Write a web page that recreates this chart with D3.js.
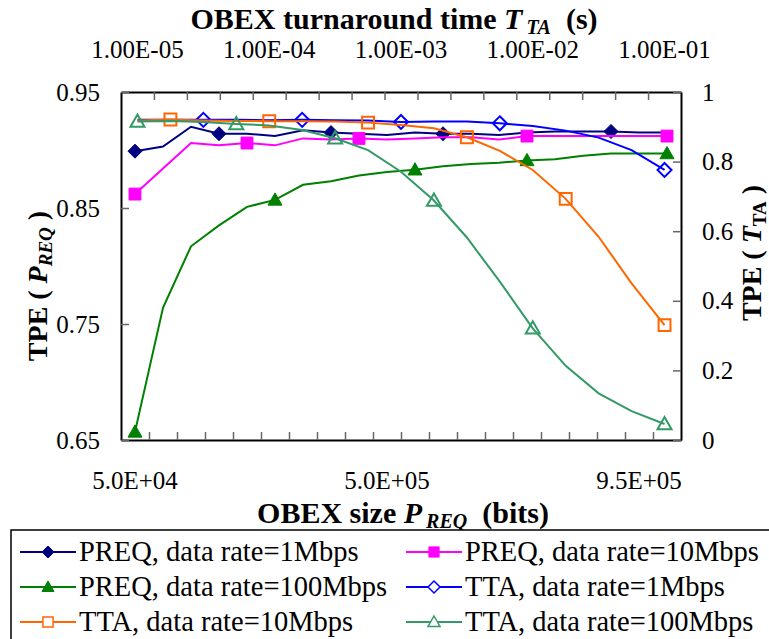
<!DOCTYPE html>
<html>
<head>
<meta charset="utf-8">
<script src="https://cdn.jsdelivr.net/npm/d3@7"></script>
<style>
  body { margin: 0; background: #fff; }
  #chart, #chart text { font-family: "Times New Roman", "Liberation Serif", Times, "DejaVu Serif", serif !important; }
</style>
</head>
<body>
<svg id="chart" width="769" height="639"></svg>
<script>
// categories
const preqSizes = [50000, 100000, 150000, 200000, 250000, 300000, 350000, 400000, 450000, 500000,
                   550000, 600000, 650000, 700000, 750000, 800000, 850000, 900000, 950000, 1000000];
const ttaTimes = [1.00E-05, 1.78E-05, 3.16E-05, 5.62E-05, 1.00E-04, 1.78E-04, 3.16E-04, 5.62E-04, 1.00E-03,
                  1.78E-03, 3.16E-03, 5.62E-03, 1.00E-02, 1.78E-02, 3.16E-02, 5.62E-02, 1.00E-01];

// tick labels
const bottomLabels = [50000, 500000, 950000];
const topLabels = [1.00E-05, 1.00E-04, 1.00E-03, 1.00E-02, 1.00E-01];
const leftTicks = [0.65, 0.75, 0.85, 0.95];
const rightTicks = [0, 0.2, 0.4, 0.6, 0.8, 1];

// series values (PREQ on bottom/left axes, TTA on top/right axes)
const preq1M   = [0.899, 0.903, 0.920, 0.914, 0.914, 0.912, 0.917, 0.915, 0.914, 0.913,
                  0.915, 0.914, 0.914, 0.913, 0.915, 0.916, 0.916, 0.916, 0.915, 0.915];
const preq10M  = [0.862, 0.884, 0.906, 0.904, 0.906, 0.904, 0.910, 0.909, 0.910, 0.909,
                  0.910, 0.911, 0.911, 0.909, 0.912, 0.912, 0.912, 0.912, 0.912, 0.912];
const preq100M = [0.657, 0.764, 0.817, 0.835, 0.851, 0.857, 0.870, 0.873, 0.878, 0.881,
                  0.883, 0.886, 0.888, 0.889, 0.891, 0.892, 0.895, 0.897, 0.897, 0.897];
const tta1M    = [0.920, 0.920, 0.920, 0.920, 0.919, 0.920, 0.919, 0.918, 0.914, 0.915,
                  0.915, 0.910, 0.902, 0.889, 0.869, 0.833, 0.776];
const tta10M   = [0.918, 0.921, 0.918, 0.917, 0.916, 0.916, 0.915, 0.912, 0.905, 0.896,
                  0.870, 0.831, 0.776, 0.693, 0.584, 0.450, 0.330];
const tta100M  = [0.915, 0.917, 0.914, 0.908, 0.904, 0.891, 0.867, 0.833, 0.771, 0.688,
                  0.582, 0.455, 0.321, 0.213, 0.134, 0.083, 0.046];

// points that carry a marker
const preq1MMarks = [0, 3, 7, 11, 17];
const preq10MMarks = [0, 4, 8, 14, 19];
const preq100MMarks = [0, 5, 10, 14, 19];
const tta1MMarks = [2, 5, 8, 11, 16];
const tta10MMarks = [1, 4, 7, 10, 13, 16];
const tta100MMarks = [0, 3, 6, 9, 12, 16];

const series = [
  {name: "PREQ, data rate=1Mbps",   values: preq1M,   marks: preq1MMarks,   axis: "preq", color: "#000080", shape: "diamond",  fill: true},
  {name: "PREQ, data rate=10Mbps",  values: preq10M,  marks: preq10MMarks,  axis: "preq", color: "#ff00ff", shape: "square",   fill: true},
  {name: "PREQ, data rate=100Mbps", values: preq100M, marks: preq100MMarks, axis: "preq", color: "#008000", shape: "triangle", fill: true},
  {name: "TTA, data rate=1Mbps",    values: tta1M,    marks: tta1MMarks,    axis: "tta",  color: "#0000ff", shape: "diamond",  fill: false},
  {name: "TTA, data rate=10Mbps",   values: tta10M,   marks: tta10MMarks,   axis: "tta",  color: "#ff6600", shape: "square",   fill: false},
  {name: "TTA, data rate=100Mbps",  values: tta100M,  marks: tta100MMarks,  axis: "tta",  color: "#339966", shape: "triangle", fill: false}
];

const FONT = "'Times New Roman', 'Liberation Serif', Times, serif";
const margin = {top: 92, right: 88, bottom: 199, left: 121};
const W = 769, H = 639;
const width = W - margin.left - margin.right;   // 560
const height = H - margin.top - margin.bottom;  // 348

function sci(v, d) {
  const parts = v.toExponential(d).split("e");
  const e = +parts[1], n = Math.abs(e);
  return parts[0] + "E" + (e < 0 ? "-" : "+") + (n < 10 ? "0" : "") + n;
}

function markerPath(shape, r) {
  if (shape === "diamond") return `M0,${-r}L${r},0L0,${r}L${-r},0Z`;
  if (shape === "square") return `M${-r*0.85},${-r*0.85}H${r*0.85}V${r*0.85}H${-r*0.85}Z`;
  return `M0,${-r}L${r},${r*0.75}L${-r},${r*0.75}Z`;
}

const svg = d3.select("#chart").attr("font-family", FONT);
const g = svg.append("g").attr("transform", `translate(${margin.left},${margin.top})`);

// SCALES
const xBottom = d3.scaleBand().domain(preqSizes).range([0, width]).padding(0);
const xTop = d3.scaleBand().domain(ttaTimes).range([0, width]).padding(0);
const xBottomEdge = d3.scaleLinear().domain([0, preqSizes.length]).range([0, width]);
const xTopEdge = d3.scaleLinear().domain([0, ttaTimes.length]).range([0, width]);
const yLeft = d3.scaleLinear().domain([0.65, 0.95]).range([height, 0]);
const yRight = d3.scaleLinear().domain([0, 1]).range([height, 0]);

// AXES (ticks point inward)
function styleAxis(sel) {
  sel.attr("font-family", FONT);
  sel.select(".domain").attr("stroke", "#000").attr("stroke-width", 2);
  sel.selectAll(".tick line").attr("stroke", "#666").attr("stroke-width", 1.5);
}

g.append("g").attr("transform", `translate(0,${height})`)
  .call(d3.axisBottom(xBottomEdge).tickValues(d3.range(1, preqSizes.length)).tickSizeInner(-8).tickSizeOuter(0).tickFormat(""))
  .call(styleAxis);
g.append("g")
  .call(d3.axisTop(xTopEdge).tickValues(d3.range(1, ttaTimes.length)).tickSizeInner(-8).tickSizeOuter(0).tickFormat(""))
  .call(styleAxis);
g.append("g")
  .call(d3.axisLeft(yLeft).tickValues(leftTicks).tickSizeInner(-8).tickSizeOuter(0).tickPadding(21).tickFormat(d3.format(".2f")))
  .call(styleAxis);
g.append("g").attr("transform", `translate(${width},0)`)
  .call(d3.axisRight(yRight).tickValues(rightTicks).tickSizeInner(-8).tickSizeOuter(0).tickPadding(21).tickFormat(d3.format("~g")))
  .call(styleAxis);

// category labels
g.append("g").attr("transform", `translate(0,${height})`)
  .call(d3.axisBottom(xBottom).tickValues(bottomLabels).tickSize(0).tickPadding(31).tickFormat(d => sci(d, 1)))
  .call(a => a.attr("font-family", FONT).select(".domain").remove());
g.append("g")
  .call(d3.axisTop(xTop).tickValues(topLabels).tickSize(0).tickPadding(34).tickFormat(d => sci(d, 2)))
  .call(a => a.attr("font-family", FONT).select(".domain").remove());

g.selectAll(".tick text").attr("font-size", 25).attr("fill", "#000");
g.selectAll(".tick line").filter(function() { return +d3.select(this).attr("y2") === 0 && +d3.select(this).attr("x2") === 0; }).remove();

// SERIES
series.forEach(s => {
  const xs = s.axis === "preq" ? xBottom : xTop;
  const cats = s.axis === "preq" ? preqSizes : ttaTimes;
  const ys = s.axis === "preq" ? yLeft : yRight;
  const pts = s.values.map((v, i) => [xs(cats[i]) + xs.bandwidth() / 2, ys(v)]);

  g.append("path")
    .attr("d", d3.line()(pts))
    .attr("fill", "none")
    .attr("stroke", s.color)
    .attr("stroke-width", 2);

  g.selectAll(null)
    .data(s.marks)
    .enter()
    .append("path")
    .attr("transform", i => `translate(${pts[i][0]},${pts[i][1]})`)
    .attr("d", markerPath(s.shape, 7))
    .attr("fill", s.fill ? s.color : "none")
    .attr("stroke", s.color)
    .attr("stroke-width", s.fill ? 1 : 2);
});

// TITLES
const title = svg.append("text")
  .attr("x", 394).attr("y", 29)
  .attr("text-anchor", "middle")
  .attr("font-size", 30).attr("font-weight", "bold");
title.append("tspan").text("OBEX turnaround time ");
title.append("tspan").attr("font-style", "italic").text("T");
title.append("tspan").attr("font-style", "italic").attr("font-size", 20).attr("dy", 5).attr("dx", 4).text("TA");
title.append("tspan").attr("dy", -5).text("\u00a0 (s)");

const xTitle = svg.append("text")
  .attr("x", 403).attr("y", 523)
  .attr("text-anchor", "middle")
  .attr("font-size", 30).attr("font-weight", "bold");
xTitle.append("tspan").text("OBEX size ");
xTitle.append("tspan").attr("font-style", "italic").text("P");
xTitle.append("tspan").attr("font-style", "italic").attr("font-size", 20).attr("dy", 5).attr("dx", 4).text("REQ");
xTitle.append("tspan").attr("dy", -5).text("\u00a0 (bits)");

const yTitle = svg.append("text")
  .attr("transform", "translate(47,286) rotate(-90)")
  .attr("text-anchor", "middle")
  .attr("font-size", 28).attr("font-weight", "bold");
yTitle.append("tspan").text("TPE ( ");
yTitle.append("tspan").attr("font-style", "italic").text("P");
yTitle.append("tspan").attr("font-style", "italic").attr("font-size", 19).attr("dy", 5).text("REQ");
yTitle.append("tspan").attr("dy", -5).text(" )");

const y2Title = svg.append("text")
  .attr("transform", "translate(761,253) rotate(-90)")
  .attr("text-anchor", "middle")
  .attr("font-size", 28).attr("font-weight", "bold");
y2Title.append("tspan").text("TPE ( ");
y2Title.append("tspan").attr("font-style", "italic").text("T");
y2Title.append("tspan").attr("font-size", 19).attr("dy", 5).text("TA");
y2Title.append("tspan").attr("dy", -5).text(" )");

// LEGEND
const legend = svg.append("g");
legend.append("rect")
  .attr("x", 11).attr("y", 530).attr("width", 800).attr("height", 200)
  .attr("fill", "#fff").attr("stroke", "#000").attr("stroke-width", 1.5);

const rowY = [552, 587, 622];
const colX = [20, 406];
series.forEach((s, i) => {
  const x0 = colX[i % 2], y0 = rowY[Math.floor(i / 2)];
  const item = legend.append("g").attr("transform", `translate(${x0},${y0})`);
  item.append("line").attr("x1", 0).attr("x2", 56).attr("stroke", s.color).attr("stroke-width", 2);
  item.append("path")
    .attr("transform", "translate(28,0)")
    .attr("d", markerPath(s.shape, 6))
    .attr("fill", s.fill ? s.color : "#fff")
    .attr("stroke", s.color)
    .attr("stroke-width", s.fill ? 1 : 1.5);
  item.append("text")
    .attr("x", 59).attr("y", 9)
    .attr("font-size", 28.5)
    .text(s.name);
});
</script>
</body>
</html>
